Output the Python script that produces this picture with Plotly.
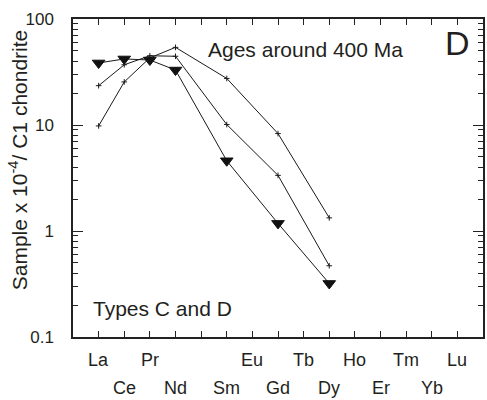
import plotly.graph_objects as go

elements = ["La", "Ce", "Pr", "Nd", "Pm", "Sm", "Eu", "Gd", "Tb", "Dy", "Ho", "Er", "Tm", "Yb", "Lu"]
label_row = [1, 2, 1, 2, 0, 2, 1, 2, 1, 2, 1, 2, 1, 2, 1]  # 0 = no label

s1_el = ["La", "Ce", "Pr", "Nd", "Sm", "Gd", "Dy"]
s1_val = [38.5, 42, 41, 33, 4.6, 1.18, 0.32]

s2_el = ["La", "Ce", "Pr", "Nd", "Sm", "Gd", "Dy"]
s2_val = [23.5, 37, 45, 44.5, 10.1, 3.35, 0.47]

s3_el = ["La", "Ce", "Pr", "Nd", "Sm", "Gd", "Dy"]
s3_val = [9.8, 25.5, 43, 54, 27.5, 8.3, 1.33]

y_major = [0.1, 1, 10, 100]
y_major_text = ["0.1", "1", "10", "100"]

FONT = "Liberation Sans, Arial, sans-serif"
TXT = "#231f20"

pos = {e: i + 1 for i, e in enumerate(elements)}

fig = go.Figure()
for el, vals in [(s3_el, s3_val), (s2_el, s2_val)]:
    fig.add_trace(go.Scatter(
        x=[pos[e] for e in el], y=vals, mode="lines+markers",
        line=dict(color="#1a1a1a", width=1),
        marker=dict(symbol="cross-thin", size=4, line=dict(color="#1a1a1a", width=1)),
        showlegend=False))
fig.add_trace(go.Scatter(
    x=[pos[e] for e in s1_el], y=s1_val, mode="lines+markers",
    line=dict(color="#1a1a1a", width=1),
    marker=dict(symbol="triangle-down", size=11, color="#111111",
                line=dict(color="#111111", width=1)),
    showlegend=False))

minor_vals = []
for dec in [0.1, 1, 10]:
    for k in range(2, 10):
        minor_vals.append(k * dec)

fig.update_xaxes(
    range=[0, 16], tickvals=list(range(1, 16)), showticklabels=False,
    ticks="inside", ticklen=6, tickwidth=1, tickcolor="#222",
    showline=True, linecolor="#222", linewidth=1.5, mirror="ticks",
    showgrid=False, zeroline=False)
fig.update_yaxes(
    type="log", range=[-1, 2], tickvals=y_major, ticktext=y_major_text,
    ticks="inside", ticklen=10, tickwidth=1, tickcolor="#222",
    showline=True, linecolor="#222", linewidth=1.5, mirror="ticks",
    showgrid=False, zeroline=False,
    tickfont=dict(family=FONT, size=17, color=TXT), ticklabelstandoff=14,
    minor=dict(tickvals=minor_vals, ticks="inside", ticklen=5, tickwidth=1,
               tickcolor="#222", showgrid=False))

ann = []
for e, r in zip(elements, label_row):
    if r == 0:
        continue
    ann.append(dict(x=pos[e], xref="x", y=0, yref="paper", text=e, showarrow=False,
                    xanchor="center", yanchor="middle", yshift=-23 if r == 1 else -51,
                    font=dict(family=FONT, size=18, color=TXT)))
ann.append(dict(x=(207 - 73) / 412, xref="paper", y=(337 - 50) / 318, yref="paper",
                text="Ages around 400 Ma", showarrow=False, xanchor="left", yanchor="middle",
                font=dict(family=FONT, size=21, color=TXT)))
ann.append(dict(x=pos["Lu"], xref="x", y=(337 - 43) / 318, yref="paper",
                text="D", showarrow=False, xanchor="center", yanchor="middle",
                font=dict(family=FONT, size=34, color=TXT)))
ann.append(dict(x=(91 - 73) / 412, xref="paper", y=(337 - 308) / 318, yref="paper",
                text="Types C and D", showarrow=False, xanchor="left", yanchor="middle",
                font=dict(family=FONT, size=21, color=TXT)))
ann.append(dict(x=(18 - 73) / 412, xref="paper", y=(337 - 160) / 318, yref="paper",
                text="Sample x 10<sup>-4</sup>/ C1 chondrite", showarrow=False, textangle=-90,
                xanchor="center", yanchor="middle",
                font=dict(family=FONT, size=21, color=TXT)))

fig.update_layout(
    width=487, height=400, margin=dict(l=73, r=2, t=19, b=63),
    paper_bgcolor="white", plot_bgcolor="white", annotations=ann)

fig.write_html("out.html")
